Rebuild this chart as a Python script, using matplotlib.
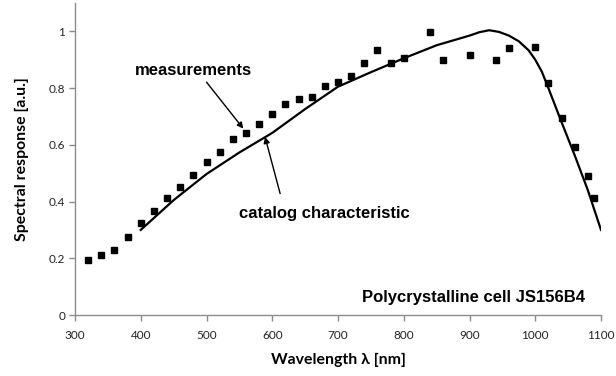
import matplotlib
matplotlib.use("Agg")
import matplotlib.pyplot as plt

# measured spectral response
meas_wl = [320, 340, 360, 380, 400, 420, 440, 460, 480, 500, 520, 540, 560, 580,
           600, 620, 640, 660, 680, 700, 720, 740, 760, 780, 800, 840, 860, 900,
           940, 960, 1000, 1020, 1040, 1060, 1080, 1090]
meas_val = [0.195, 0.213, 0.230, 0.274, 0.325, 0.365, 0.414, 0.452, 0.492, 0.538,
            0.575, 0.619, 0.643, 0.675, 0.708, 0.743, 0.760, 0.770, 0.809, 0.821,
            0.844, 0.890, 0.933, 0.889, 0.906, 0.998, 0.900, 0.916, 0.900, 0.942,
            0.946, 0.817, 0.696, 0.593, 0.489, 0.413]

# catalog characteristic
cat_wl = [400, 450, 500, 550, 600, 650, 700, 750, 800, 850, 900, 915, 930, 945,
          960, 975, 990, 1000, 1010, 1020, 1040, 1060, 1080, 1100]
cat_val = [0.300, 0.405, 0.497, 0.573, 0.642, 0.726, 0.805, 0.856, 0.905, 0.951,
           0.985, 0.997, 1.004, 0.998, 0.985, 0.965, 0.933, 0.900, 0.858, 0.800,
           0.680, 0.563, 0.440, 0.300]

x_ticks = [300, 400, 500, 600, 700, 800, 900, 1000, 1100]
y_ticks = [0, 0.2, 0.4, 0.6, 0.8, 1.0]
y_tick_labels = ["0", "0.2", "0.4", "0.6", "0.8", "1"]

fig = plt.figure(figsize=(6.16, 3.76), dpi=100)
ax = fig.add_axes([75/616, 1 - 315/376, 526/616, 312/376])

ax.plot(cat_wl, cat_val, color="black", lw=1.6, zorder=2)
ax.plot(meas_wl, meas_val, ls="none", marker="s", ms=4.6, color="black", zorder=3)

ax.set_xlim(300, 1100)
ax.set_ylim(0, 1.1)
ax.set_xticks(x_ticks)
ax.set_yticks(y_ticks)
ax.set_yticklabels(y_tick_labels)

grey = "#8c8c8c"
for s in ["top", "right"]:
    ax.spines[s].set_visible(False)
for s in ["left", "bottom"]:
    ax.spines[s].set_color(grey)
    ax.spines[s].set_linewidth(1.0)
ax.tick_params(axis="both", direction="out", length=4, width=1.0, color=grey,
               labelsize=8.5, labelcolor="#222222", pad=3)
ax.tick_params(axis="x", pad=7)
for lab in ax.get_xticklabels() + ax.get_yticklabels():
    lab.set_family(["Lato", "DejaVu Sans"])

ax.set_xlabel("Wavelength λ [nm]", fontsize=11.4, fontweight="bold",
              family=["Lato", "DejaVu Sans"], labelpad=8)
ax.set_ylabel("Spectral response [a.u.]", fontsize=11.4, fontweight="bold",
              family=["Lato", "DejaVu Sans"], labelpad=14)

ann_font = dict(fontsize=12, fontweight="bold", family=["Liberation Sans", "DejaVu Sans"])
arrow = dict(arrowstyle="-|>", color="black", lw=1.0, mutation_scale=9,
             shrinkA=0, shrinkB=0)

ax.text(480, 0.862, "measurements", ha="center", va="center", **ann_font)
ax.annotate("", xy=(556, 0.657), xytext=(500, 0.821), arrowprops=arrow)

ax.text(680, 0.358, "catalog characteristic", ha="center", va="center", **ann_font)
ax.annotate("", xy=(589, 0.628), xytext=(612, 0.428), arrowprops=arrow)

ax.text(1075, 0.063, "Polycrystalline cell JS156B4", ha="right", va="center",
        **ann_font)

fig.savefig("out.png", dpi=100)
